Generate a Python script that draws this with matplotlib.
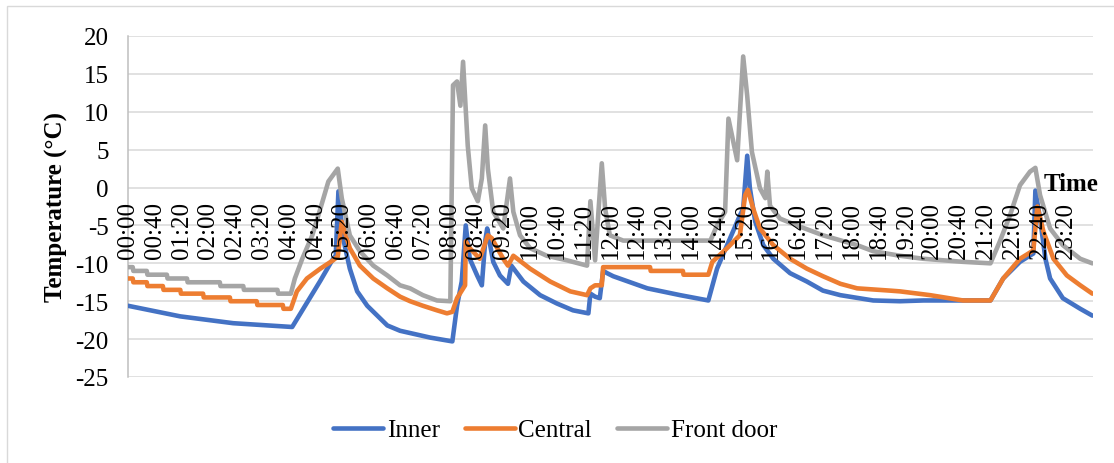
import matplotlib
matplotlib.use("Agg")
import matplotlib.pyplot as plt
from matplotlib.patches import Rectangle

plt.rcParams['font.family'] = ['Liberation Serif', 'DejaVu Serif']
plt.rcParams['axes.unicode_minus'] = False

# 温度ログ（時刻, °C）
inner_time = ["00:00", "01:18", "02:37", "04:05", "04:47", "05:06", "05:10", "05:14", "05:21", "05:31",
              "05:42", "05:57", "06:27", "06:46", "07:31", "08:04", "08:11", "08:18", "08:24", "08:30",
              "08:41", "08:48", "08:53", "08:56", "09:05", "09:15", "09:27", "09:32", "09:50", "10:15",
              "10:40", "11:04", "11:27", "11:30", "11:37", "11:44", "11:49", "11:55", "12:04", "12:55",
              "13:44", "14:26", "14:39", "14:54", "15:13", "15:18", "15:24", "15:28", "15:36", "15:48",
              "16:03", "16:28", "16:53", "17:17", "17:43", "18:32", "19:12", "19:47", "21:27", "21:46",
              "22:11", "22:31", "22:34", "22:41", "22:49", "22:56", "23:15", "23:41", "23:59"]
inner_temp = [-15.6, -17.0, -17.9, -18.4, -12.3, -9.4, -9.0, -0.5, -6.7, -10.7,
              -13.7, -15.6, -18.2, -18.9, -19.8, -20.3, -15.6, -12.4, -5.0, -9.4,
              -11.6, -12.9, -7.1, -5.4, -9.8, -11.6, -12.7, -10.3, -12.4, -14.2,
              -15.3, -16.2, -16.6, -14.0, -14.4, -14.6, -11.0, -11.3, -11.7, -13.3,
              -14.2, -14.9, -10.7, -7.6, -3.7, -2.8, 4.2, -0.1, -4.5, -7.6,
              -9.4, -11.3, -12.4, -13.6, -14.2, -14.9, -15.0, -14.9, -14.9, -12.0,
              -9.8, -8.7, -0.4, -4.1, -9.4, -12.0, -14.6, -16.0, -16.9]

central_time = ["00:00", "00:07", "00:08", "00:28", "00:29", "00:52", "00:53", "01:18", "01:19", "01:52",
                "01:53", "02:32", "02:33", "03:12", "03:13", "03:51", "03:52", "04:03", "04:12", "04:27",
                "04:47", "05:06", "05:13", "05:19", "05:31", "05:46", "06:06", "06:27", "06:46", "07:01",
                "07:20", "07:41", "07:56", "08:04", "08:11", "08:23", "08:24", "08:30", "08:45", "08:57",
                "09:03", "09:11", "09:20", "09:27", "09:35", "09:41", "10:00", "10:30", "11:00", "11:25",
                "11:30", "11:37", "11:47", "11:49", "12:59", "13:00", "13:48", "13:49", "14:26", "14:32",
                "14:54", "15:13", "15:21", "15:25", "15:33", "15:43", "16:03", "16:28", "16:53", "17:17",
                "17:43", "18:08", "18:57", "19:12", "19:57", "20:46", "21:27", "21:46", "22:11", "22:31",
                "22:37", "22:46", "23:01", "23:21", "23:41", "23:59"]
central_temp = [-12, -12, -12.5, -12.5, -13, -13, -13.5, -13.5, -14, -14,
                -14.5, -14.5, -15, -15, -15.5, -15.5, -16, -16, -13.7, -12,
                -10.7, -9.6, -9.1, -4.5, -8.0, -10.3, -12, -13.3, -14.4, -15,
                -15.6, -16.2, -16.6, -16.4, -14.6, -12.9, -7.1, -8.0, -9.4, -6.3,
                -6.7, -8.0, -9.4, -10.3, -9.0, -9.4, -10.7, -12.4, -13.7, -14.2,
                -13.3, -12.9, -12.9, -10.5, -10.5, -11, -11, -11.5, -11.5, -9.8,
                -8.0, -6.3, -1.0, -0.3, -2.8, -5.4, -7.6, -9.4, -10.7, -11.7,
                -12.7, -13.3, -13.6, -13.7, -14.2, -14.9, -14.9, -12, -9.4, -8.3,
                -2.5, -5.8, -9.4, -11.6, -12.9, -14]

front_time = ["00:00", "00:07", "00:08", "00:28", "00:29", "00:58", "00:59", "01:28", "01:29", "02:17",
              "02:18", "02:52", "02:53", "03:43", "03:44", "04:03", "04:09", "04:20", "04:35", "04:47",
              "04:59", "05:13", "05:19", "05:31", "05:46", "06:06", "06:27", "06:46", "07:01", "07:20",
              "07:41", "08:01", "08:05", "08:11", "08:16", "08:20", "08:27", "08:33", "08:42", "08:48",
              "08:53", "08:57", "09:05", "09:20", "09:30", "09:35", "09:45", "10:00", "10:25", "10:55",
              "11:25", "11:30", "11:37", "11:47", "11:52", "11:59", "12:19", "14:29", "14:39", "14:51",
              "14:56", "15:09", "15:18", "15:24", "15:31", "15:43", "15:51", "15:54", "15:58", "16:13",
              "16:38", "17:17", "18:08", "18:32", "19:12", "19:47", "20:46", "21:27", "21:41", "21:56",
              "22:11", "22:26", "22:34", "22:41", "22:56", "23:15", "23:41", "23:59"]
front_temp = [-10.5, -10.5, -11, -11, -11.5, -11.5, -12, -12, -12.5, -12.5,
              -13, -13, -13.5, -13.5, -14, -14, -12, -9.4, -6.3, -2.8,
              0.8, 2.5, -1.4, -6.3, -8.4, -10.3, -11.6, -12.9, -13.3, -14.2,
              -14.9, -15.0, 13.5, 14.0, 10.8, 16.6, 5.5, -0.1, -1.8, 1.2,
              8.2, 2.5, -3.2, -5.4, 1.2, -3.2, -6.3, -8.0, -9.0, -9.6,
              -10.3, -1.8, -9.6, 3.2, -2.8, -6.3, -7.0, -7.0, -5.0, -3.2,
              9.1, 3.6, 17.3, 12.1, 4.7, -0.1, -1.4, 2.1, -2.4, -4.1,
              -5.0, -6.3, -7.6, -8.4, -9.0, -9.4, -9.8, -10.0, -7.1, -3.7,
              0.3, 2.1, 2.6, -1.0, -5.4, -7.6, -9.4, -10.0]

x_labels = ["00:00", "00:40", "01:20", "02:00", "02:40", "03:20", "04:00", "04:40", "05:20",
            "06:00", "06:40", "07:20", "08:00", "08:40", "09:20", "10:00", "10:40", "11:20",
            "12:00", "12:40", "13:20", "14:00", "14:40", "15:20", "16:00", "16:40", "17:20",
            "18:00", "18:40", "19:20", "20:00", "20:40", "21:20", "22:00", "22:40", "23:20"]
y_ticks = [-25, -20, -15, -10, -5, 0, 5, 10, 15, 20]

FS = 18


def to_min(hhmm):
    h, m = hhmm.split(":")
    return int(h) * 60 + int(m)


fig = plt.figure(figsize=(11.14, 4.64), dpi=100)
fig.patches.append(Rectangle((7 / 1114, -0.05), 1.2, 1 - 7 / 464 + 0.05, transform=fig.transFigure,
                             fill=False, edgecolor="#D9D9D9", linewidth=1.0))
ax = fig.add_axes([128 / 1114, 1 - 378 / 464, 965 / 1114, 341 / 464])
ax.set_axisbelow(False)  # 目盛ラベルを線より前に

# 横グリッドは線の下
for y in y_ticks:
    ax.axhline(y, color="#D9D9D9", lw=1.1, zorder=0.5)

series = [("Inner", inner_time, inner_temp, "#4472C4"),
          ("Central", central_time, central_temp, "#ED7D31"),
          ("Front door", front_time, front_temp, "#A5A5A5")]
for name, t, v, c in series:
    ax.plot([to_min(s) for s in t], v, color=c, lw=3.3, label=name,
            solid_joinstyle="round", solid_capstyle="round")

ax.set_xlim(0, 1440)
ax.set_ylim(-25, 20)
ax.set_yticks(y_ticks)
ax.set_yticklabels([str(y) for y in y_ticks])
ax.set_xticks([to_min(s) for s in x_labels])
ax.set_xticklabels(x_labels)

for s in ["top", "right"]:
    ax.spines[s].set_visible(False)
ax.spines["left"].set_color("#BFBFBF")
ax.spines["left"].set_linewidth(1.1)
ax.spines["left"].set_zorder(0.6)
ax.spines["bottom"].set_position(("data", 0))
ax.spines["bottom"].set_visible(False)
ax.tick_params(axis="x", length=0, pad=10, labelsize=FS, labelrotation=90)
ax.tick_params(axis="y", length=0, pad=14, labelsize=FS)

fig.text(56 / 1114, 1 - 207 / 464, "Temperature (°C)", rotation=90, ha="center", va="center",
         fontsize=FS, fontweight="bold")
fig.text(1098 / 1114, 1 - 191 / 464, "Time", ha="right", va="baseline", fontsize=FS, fontweight="bold")

fig.legend(loc="center", bbox_to_anchor=(555 / 1114, 1 - 431 / 464), ncol=3, frameon=False,
           fontsize=FS, handlelength=2.0, handletextpad=0.15, columnspacing=1.0)

fig.savefig("out.png", dpi=100)
